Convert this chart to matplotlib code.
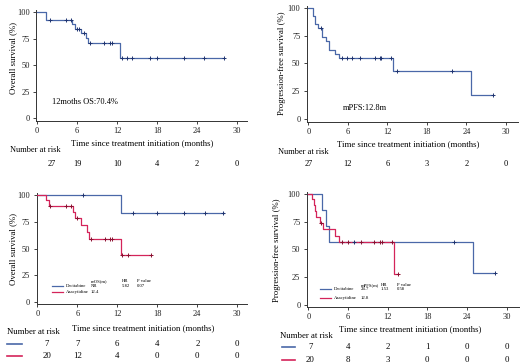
import numpy as np
import matplotlib
matplotlib.use("Agg")
import matplotlib.pyplot as plt
from matplotlib.transforms import blended_transform_factory

plt.rcParams['font.family'] = ['Liberation Serif', 'DejaVu Serif']

W, H = 520, 364
BLUE = '#4a68a8'
RED = '#d4245a'
BLUE_D = '#1f3470'
RED_D = '#8a1030'

# ---- data ----
xticks = [0, 6, 12, 18, 24, 30]
yticks = [0, 25, 50, 75, 100]

# overall survival, all patients
os_t = [0, 1.3, 5.3, 5.7, 6.6, 7.3, 7.7, 12.5]
os_s = [100, 92.6, 88.4, 84.2, 80.0, 75.4, 70.4, 56.3]
os_end = 28.0
os_cens = [1.9, 4.4, 5.1, 6.0, 6.3, 7.0, 8.0, 10.0, 11.0, 11.2, 12.8, 13.5, 14.2, 17.0, 18.0, 22.0, 25.0, 28.0]
os_risk = [27, 19, 10, 4, 2, 0]

# progression-free survival, all patients
pfs_t = [0, 0.7, 1.0, 1.5, 2.1, 2.7, 3.1, 4.1, 4.7, 12.8, 24.7]
pfs_s = [100, 92.6, 85.2, 81.5, 74.1, 70.4, 62.5, 58.3, 54.5, 43.6, 21.8]
pfs_end = 28.0
pfs_cens = [1.9, 5.1, 5.9, 6.7, 7.9, 10.1, 10.9, 11.1, 12.6, 13.5, 21.9, 28.0]
pfs_risk = [27, 12, 6, 3, 2, 0]

# overall survival by drug
os_dec_t = [0, 12.5]
os_dec_s = [100, 83.3]
os_dec_end = 28.0
os_dec_cens = [6.8, 14.3, 18.0, 22.0, 25.2, 27.9]
os_aza_t = [0, 1.3, 1.7, 5.4, 5.7, 6.6, 7.5, 7.8, 12.5]
os_aza_s = [100, 95.0, 90.0, 84.4, 78.8, 71.6, 65.1, 58.6, 43.9]
os_aza_end = 17.0
os_aza_cens = [1.9, 4.3, 5.1, 6.0, 8.05, 10.1, 10.9, 11.15, 12.75, 13.6, 17.0]
os_dec_risk = [7, 7, 6, 4, 2, 0]
os_aza_risk = [20, 12, 4, 0, 0, 0]

# progression-free survival by drug
pfs_dec_t = [0, 2.0, 2.65, 3.2, 24.9]
pfs_dec_s = [100, 85.7, 71.4, 57.1, 28.6]
pfs_dec_end = 28.2
pfs_dec_cens = [6.9, 22.1, 28.2]
pfs_aza_t = [0, 0.6, 0.8, 1.0, 1.2, 1.7, 2.2, 4.1, 4.6, 12.9]
pfs_aza_s = [100, 95.0, 89.5, 84.2, 78.9, 73.7, 68.1, 62.5, 56.8, 28.4]
pfs_aza_end = 13.6
pfs_aza_cens = [1.9, 5.1, 6.0, 7.9, 10.0, 10.9, 11.1, 12.6, 13.6]
pfs_dec_risk = [7, 4, 2, 1, 0, 0]
pfs_aza_risk = [20, 8, 3, 0, 0, 0]


def px_axes(fig, left, right, top, bottom):
    return fig.add_axes([left / W, 1 - bottom / H, (right - left) / W, (bottom - top) / H])


def km(ax, t, s, end, cens, color, mcolor):
    tt = list(t) + [end]
    ss = list(s) + [s[-1]]
    ax.step(tt, ss, where='post', color=color, lw=0.9, zorder=3)
    idx = np.searchsorted(t, cens, side='right') - 1
    cy = np.array(s)[idx]
    ax.plot(cens, cy, ls='none', marker='+', ms=2.2, mew=0.7, color=mcolor, zorder=4)


def style(ax, xlim, ylim):
    ax.set_xlim(*xlim)
    ax.set_ylim(*ylim)
    ax.set_xticks(xticks)
    ax.set_yticks(yticks)
    for sp in ['top', 'right']:
        ax.spines[sp].set_visible(False)
    for sp in ['left', 'bottom']:
        ax.spines[sp].set_linewidth(0.7)
        ax.spines[sp].set_color('#333333')
    ax.tick_params(length=2.5, width=0.6, labelsize=6, pad=2, colors='#222222')


def fy(py):
    return 1 - py / H


fig = plt.figure(figsize=(W / 100, H / 100), dpi=100)

# panel 1
ax1 = px_axes(fig, 36, 247, 9.9, 121.2)
style(ax1, (-0.15, 31.5), (-3, 102))
km(ax1, os_t, os_s, os_end, os_cens, BLUE, BLUE_D)
ax1.text(2.25, 15, '12moths OS:70.4%', fontsize=6, va='center')

# panel 2
ax2 = px_axes(fig, 306.7, 518, 6, 121.7)
style(ax2, (-0.24, 31.85), (-2.2, 101.5))
km(ax2, pfs_t, pfs_s, pfs_end, pfs_cens, BLUE, BLUE_D)
ax2.text(5.3, 10.5, 'mPFS:12.8m', fontsize=6, va='center')

# panel 3
ax3 = px_axes(fig, 36.6, 247.3, 193, 303.7)
style(ax3, (-0.1, 31.5), (-1.6, 102))
km(ax3, os_dec_t, os_dec_s, os_dec_end, os_dec_cens, BLUE, BLUE_D)
km(ax3, os_aza_t, os_aza_s, os_aza_end, os_aza_cens, RED, RED_D)

# panel 4
ax4 = px_axes(fig, 306.7, 519.3, 192, 306.6)
style(ax4, (-0.24, 31.9), (-1.2, 101.5))
km(ax4, pfs_dec_t, pfs_dec_s, pfs_dec_end, pfs_dec_cens, BLUE, BLUE_D)
km(ax4, pfs_aza_t, pfs_aza_s, pfs_aza_end, pfs_aza_cens, RED, RED_D)


def legend_box(ax, head, dec_val, aza_val, hr, pv, x0, xh, xhr, xp, y_head, y1, y2):
    ax.plot([x0, x0 + 1.7], [y1, y1], color=BLUE, lw=0.9)
    ax.plot([x0, x0 + 1.7], [y2, y2], color=RED, lw=0.9)
    fs = 3.4
    ax.text(x0 + 2.1, y1, 'Decitabine', fontsize=fs, va='center')
    ax.text(x0 + 2.1, y2, 'Azacytidine', fontsize=fs, va='center')
    ax.text(xh, y_head, head, fontsize=fs, va='center')
    ax.text(xh, y1, dec_val, fontsize=fs, va='center')
    ax.text(xh, y2, aza_val, fontsize=fs, va='center')
    ax.text(xhr, y_head, 'HR', fontsize=fs, va='center')
    ax.text(xhr, y1, hr, fontsize=fs, va='center')
    ax.text(xp, y_head, 'P value', fontsize=fs, va='center')
    ax.text(xp, y1, pv, fontsize=fs, va='center')


legend_box(ax3, 'mOS(m)', 'NR', '12.4', '5.82', '0.07', 2.2, 8.0, 12.7, 15.0, 20, 15, 9.4)
legend_box(ax4, 'mPFS(m)', '24.7', '12.8', '1.53', '0.58', 1.8, 7.9, 11.0, 13.4, 18.5, 14.3, 6.8)

# axis labels
lab_fs = 6.3
fig.text(12.7 / W, fy(58), 'Overall survival (%)', rotation=90, ha='center', va='center', fontsize=lab_fs)
fig.text(281.7 / W, fy(63), 'Progression-free survival (%)', rotation=90, ha='center', va='center', fontsize=lab_fs)
fig.text(12.7 / W, fy(248.7), 'Overall survival (%)', rotation=90, ha='center', va='center', fontsize=lab_fs)
fig.text(276.7 / W, fy(250), 'Progression-free survival (%)', rotation=90, ha='center', va='center', fontsize=lab_fs)

xl = 'Time since treatment initiation (months)'
fig.text(142 / W, fy(143.5), xl, ha='center', va='center', fontsize=lab_fs)
fig.text(408 / W, fy(144.5), xl, ha='center', va='center', fontsize=lab_fs)
fig.text(143 / W, fy(328), xl, ha='center', va='center', fontsize=lab_fs)
fig.text(410 / W, fy(329), xl, ha='center', va='center', fontsize=lab_fs)

# number at risk
fig.text(10 / W, fy(150), 'Number at risk', ha='left', va='center', fontsize=6)
fig.text(278 / W, fy(151.5), 'Number at risk', ha='left', va='center', fontsize=6)
fig.text(7 / W, fy(332), 'Number at risk', ha='left', va='center', fontsize=6.3)
fig.text(280 / W, fy(336), 'Number at risk', ha='left', va='center', fontsize=6.3)


def risk_row(ax, vals, py, first_x=0.0, fs=6):
    tr = blended_transform_factory(ax.transData, fig.transFigure)
    for i, (x, v) in enumerate(zip(xticks, vals)):
        xx = first_x if i == 0 else x
        ax.text(xx, fy(py), str(v), transform=tr, ha='center', va='center', fontsize=fs, clip_on=False)


risk_row(ax1, os_risk, 164.3, first_x=2.2)
risk_row(ax2, pfs_risk, 164.3)
risk_row(ax3, os_dec_risk, 343.7, first_x=1.4, fs=6.3)
risk_row(ax3, os_aza_risk, 356.3, first_x=1.4, fs=6.3)
risk_row(ax4, pfs_dec_risk, 347, first_x=0.3, fs=6.3)
risk_row(ax4, pfs_aza_risk, 360.3, first_x=0.3, fs=6.3)

# coloured row markers
for (x0, x1, py, c) in [(7, 22, 343.7, BLUE), (7, 22, 356.3, RED),
                        (281.7, 295, 347, BLUE), (281.7, 295, 360.3, RED)]:
    fig.add_artist(plt.Line2D([x0 / W, x1 / W], [fy(py), fy(py)], color=c, lw=1.2, transform=fig.transFigure))

fig.savefig('out.png', dpi=100)
